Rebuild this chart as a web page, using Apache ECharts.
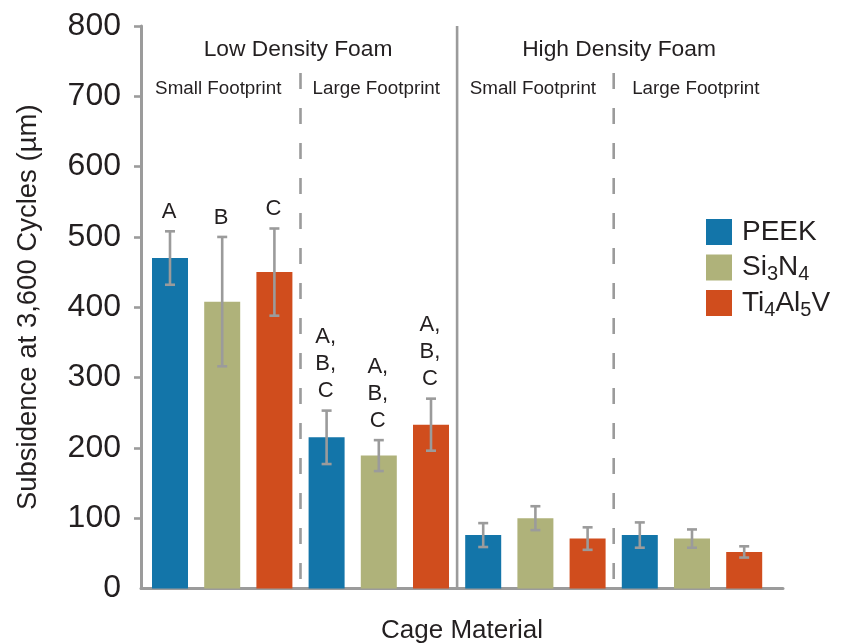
<!DOCTYPE html>
<html>
<head>
<meta charset="utf-8">
<script src="https://cdn.jsdelivr.net/npm/echarts@6/dist/echarts.min.js"></script>
<style>
  html, body { margin: 0; padding: 0; background: #fff; }
  #chart { width: 842px; height: 644px; }
</style>
</head>
<body>
<div id="chart"></div>
<script>
// Subsidence after 3,600 cycles, by foam density, footprint and cage material.
const foams = ['Low Density Foam', 'High Density Foam'];
const footprints = ['Small Footprint', 'Large Footprint'];
const materials = ['PEEK', 'Si₃N₄', 'Ti₄Al₅V'];

// one value per group, in order: LD small, LD large, HD small, HD large
const peekMean  = [470, 215, 76, 76];
const peekSd    = [38, 38, 17, 18];
const si3n4Mean = [408, 189, 100, 71];
const si3n4Sd   = [92, 22, 17, 13];
const tiMean    = [450, 233, 71, 52];
const tiSd      = [62, 37, 16, 8];

// significance letters printed above the error bars
const peekLetters  = ['A', 'A,\nB,\nC', '', ''];
const si3n4Letters = ['B', 'A,\nB,\nC', '', ''];
const tiLetters    = ['C', 'A,\nB,\nC', '', ''];

const yTicks = [100, 200, 300, 400, 500, 600, 700, 800];

const colors = ['#1375a9', '#afb27a', '#d04d1d'];
const axisGrey = '#9b9b9b';
const ink = '#231f20';
const FONT = 'Liberation Sans, Arial, sans-serif';

const means = [peekMean, si3n4Mean, tiMean];
const sds = [peekSd, si3n4Sd, tiSd];
const letters = [peekLetters, si3n4Letters, tiLetters];

// 12 bar slots: foam x footprint x material
const categories = [];
const groupLabels = [];
foams.forEach(f => footprints.forEach(fp => {
  groupLabels.push({ foam: f, footprint: fp });
  materials.forEach(m => categories.push(f + ' / ' + fp + ' / ' + m));
}));

const nGroups = groupLabels.length;
const nMat = materials.length;

const barSeries = materials.map((m, mi) => {
  const data = categories.map(() => '-');
  for (let g = 0; g < nGroups; g++) data[g * nMat + mi] = means[mi][g];
  return {
    name: m, type: 'bar', xAxisIndex: 1, yAxisIndex: 1,
    barWidth: 36, barGap: '-100%',
    itemStyle: { color: colors[mi] },
    data: data, z: 2
  };
});

const errData = [];
const errLetters = [];
for (let g = 0; g < nGroups; g++) {
  for (let mi = 0; mi < nMat; mi++) {
    errData.push([g * nMat + mi, means[mi][g], sds[mi][g]]);
    errLetters.push(letters[mi][g]);
  }
}

const errorSeries = {
  type: 'custom', name: 'sd', xAxisIndex: 1, yAxisIndex: 1,
  encode: { x: 0, y: 1 },
  data: errData, z: 5, silent: true,
  renderItem: function (params, api) {
    const x = api.value(0), m = api.value(1), s = api.value(2);
    const hi = api.coord([x, m + s]);
    const lo = api.coord([x, m - s]);
    const cap = 5;
    const ls = { stroke: axisGrey, lineWidth: 2.6 };
    const kids = [
      { type: 'line', shape: { x1: hi[0], y1: hi[1], x2: lo[0], y2: lo[1] }, style: ls },
      { type: 'line', shape: { x1: hi[0] - cap, y1: hi[1], x2: hi[0] + cap, y2: hi[1] }, style: ls },
      { type: 'line', shape: { x1: lo[0] - cap, y1: lo[1], x2: lo[0] + cap, y2: lo[1] }, style: ls }
    ];
    const t = errLetters[params.dataIndex];
    if (t) {
      kids.push({
        type: 'text',
        style: {
          text: t, x: hi[0] - 1, y: hi[1] - 6,
          align: 'center', verticalAlign: 'bottom',
          fontSize: 22, lineHeight: 27, fontFamily: FONT, fill: ink
        }
      });
    }
    return { type: 'group', children: kids };
  }
};

const chart = echarts.init(document.getElementById('chart'), null, { renderer: 'canvas' });

const legendRich = { sub: { fontSize: 20, lineHeight: 18, verticalAlign: 'bottom', fontFamily: FONT, color: ink } };
function legendText(name) {
  return name.replace(/[₀-₉]/g, c => '{sub|' + (c.charCodeAt(0) - 0x2080) + '}');
}

chart.setOption({
  animation: false,
  backgroundColor: '#fff',
  textStyle: { fontFamily: FONT },
  grid: [
    { left: 141, right: 59, top: 26, height: 562.5, outerBoundsMode: 'none' },
    { left: 143.9, width: 626.4, top: 26, height: 562.5, outerBoundsMode: 'none' }
  ],
  xAxis: [
    {
      gridIndex: 0, type: 'value', min: 0, max: 1,
      axisLine: { show: true, lineStyle: { color: axisGrey, width: 3 } },
      axisTick: { show: false }, axisLabel: { show: false }, splitLine: { show: false },
      name: 'Cage Material', nameLocation: 'middle', nameGap: 29,
      nameTextStyle: { fontSize: 26, color: ink, fontFamily: FONT }
    },
    {
      gridIndex: 1, type: 'category', data: categories, show: false
    }
  ],
  yAxis: [
    {
      gridIndex: 0, type: 'value', min: 0, max: 800, interval: 100,
      axisLine: { show: true, lineStyle: { color: axisGrey, width: 3 } },
      axisTick: { show: true, length: 7, customValues: yTicks, lineStyle: { color: axisGrey, width: 2.6 } },
      axisLabel: { fontSize: 32, color: ink, margin: 20, fontFamily: FONT },
      splitLine: { show: false },
      name: 'Subsidence at 3,600 Cycles (µm)', nameLocation: 'middle', nameGap: 99,
      nameTextStyle: { fontSize: 27.5, color: ink, fontFamily: FONT }
    },
    {
      gridIndex: 1, type: 'value', min: 0, max: 800, show: false
    }
  ],
  legend: {
    data: materials, orient: 'vertical', left: 706, top: 215, padding: 0,
    itemWidth: 26, itemHeight: 26, itemGap: 1.5, icon: 'rect',
    selectedMode: false,
    formatter: legendText,
    textStyle: { fontSize: 28, lineHeight: 34, color: ink, fontFamily: FONT, padding: [0, 0, 0, 5], rich: legendRich }
  },
  series: barSeries.concat([errorSeries])
});

// group dividers and group headings, placed from the axis scales
const px = i => chart.convertToPixel({ xAxisIndex: 1 }, categories[i]);
const pxEdge = v => chart.convertToPixel({ xAxisIndex: 0 }, v);
const py = v => chart.convertToPixel({ yAxisIndex: 0 }, v);
const yTop = py(800), yBase = py(0);
const graphics = [];
const divStyle = { stroke: axisGrey, lineWidth: 2.6 };

// boundaries between footprint groups; outer ones are the axis ends
const bounds = [pxEdge(0)];
for (let g = 1; g < nGroups; g++) bounds.push((px(g * nMat - 1) + px(g * nMat)) / 2);
bounds.push(pxEdge(1));

for (let g = 1; g < nGroups; g++) {
  const x = bounds[g];
  const solid = groupLabels[g].foam !== groupLabels[g - 1].foam;
  graphics.push({
    type: 'line', silent: true, z: 1,
    shape: { x1: x, y1: solid ? yTop : 73, x2: x, y2: yBase },
    style: solid ? divStyle : Object.assign({ lineDash: [16, 19] }, divStyle)
  });
}

foams.forEach((f, fi) => {
  const g0 = fi * footprints.length;
  const g1 = g0 + footprints.length;
  graphics.push({
    type: 'text', silent: true,
    style: { text: f, x: (bounds[g0] + bounds[g1]) / 2 - 1, y: 50, align: 'center', verticalAlign: 'middle',
             fontSize: 22.8, fontFamily: FONT, fill: ink }
  });
});

groupLabels.forEach((gl, g) => {
  graphics.push({
    type: 'text', silent: true,
    style: { text: gl.footprint, x: (bounds[g] + bounds[g + 1]) / 2 - 2.5, y: 89, align: 'center', verticalAlign: 'middle',
             fontSize: 18.8, fontFamily: FONT, fill: ink }
  });
});

chart.setOption({ graphic: graphics });
</script>
</body>
</html>
